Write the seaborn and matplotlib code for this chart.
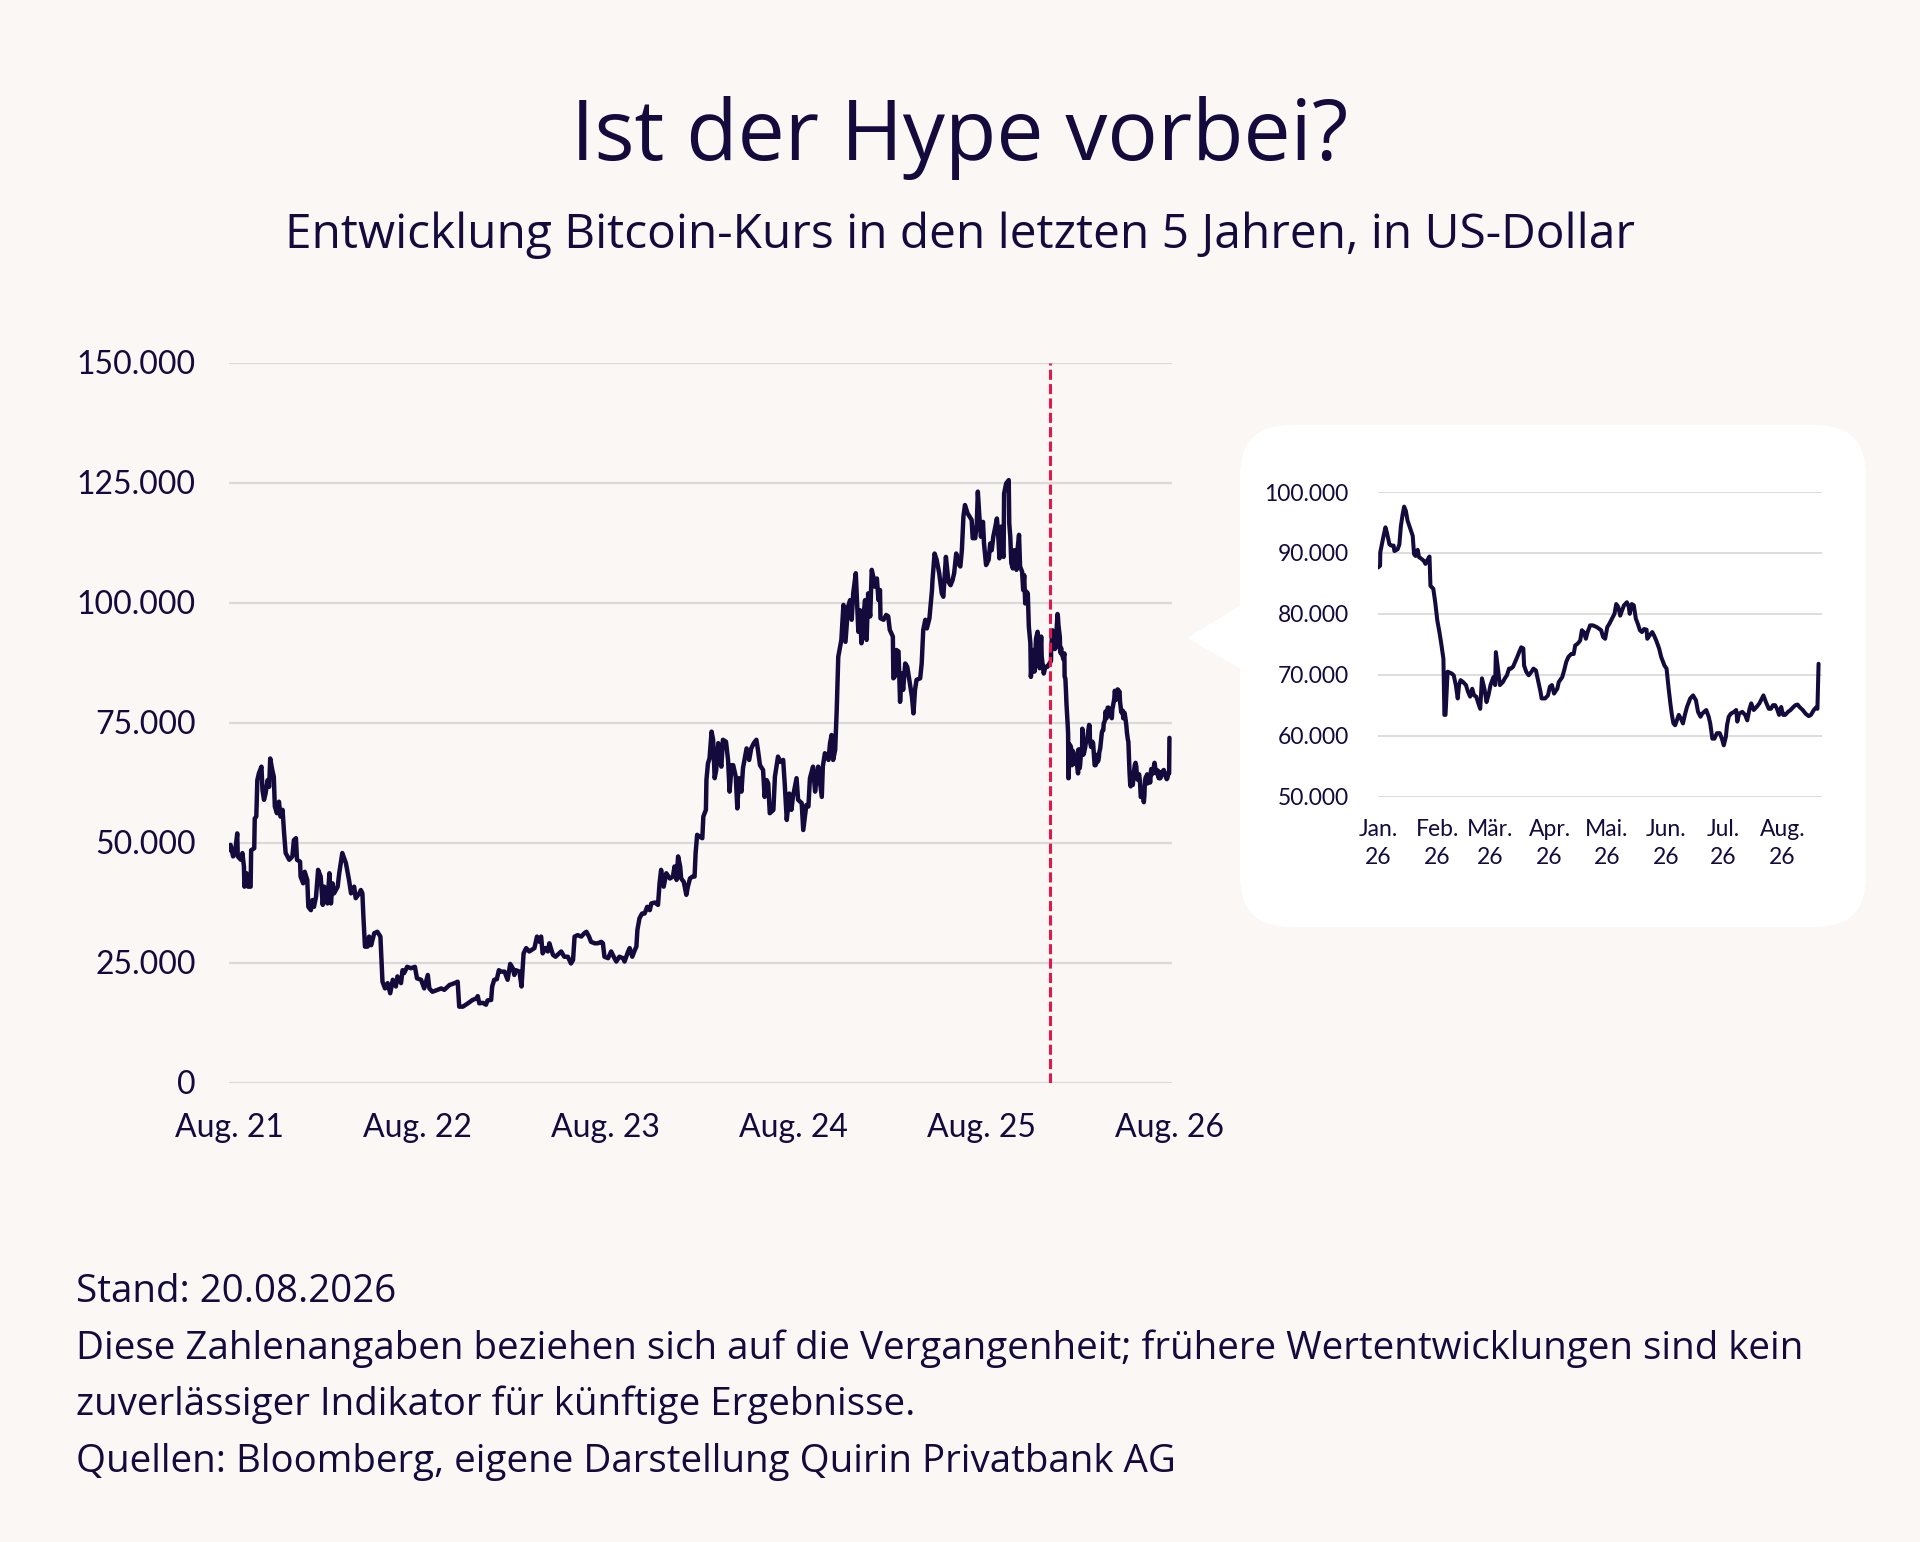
import numpy as np
import pandas as pd
import matplotlib
matplotlib.use("Agg")
import matplotlib.pyplot as plt
import matplotlib.ticker as mticker
from matplotlib.patches import FancyBboxPatch, Polygon
import seaborn as sns

# --- data ----------------------------------------------------------------
# main series: days after 20.08.2021, price in thousand USD (until end of 2025)
main_start = "2021-08-20"
main_days = [
    0, 3, 8, 13, 16, 17, 23, 26, 29, 30, 34, 37, 42, 43, 49, 50, 53, 55, 58, 63,
    65, 68, 71, 75, 78, 80, 84, 87, 89, 93, 97, 100, 104, 107, 110, 117, 123, 126, 130, 132,
    138, 139, 144, 147, 152, 154, 159, 162, 165, 169, 173, 178, 182, 185, 191, 195, 198, 201, 204, 211,
    214, 220, 227, 233, 237, 243, 246, 253, 256, 259, 261, 264, 269, 272, 276, 282, 288, 294, 296, 298,
    303, 308, 313, 318, 324, 327, 334, 337, 340, 346, 353, 361, 365, 373, 379, 386, 389, 395, 405, 412,
    418, 428, 438, 444, 447, 454, 464, 473,
    480, 483, 486, 493, 499, 502, 509, 511, 515, 520, 524, 528, 535, 541, 546, 551, 554, 557, 564, 568,
    572, 577, 583, 593, 598, 603, 606, 609, 614, 619, 622, 629, 634, 638, 645, 651, 658, 664, 668, 671,
    677, 684, 690, 694, 699, 703, 710, 716, 723, 726, 729, 736, 742, 747, 752, 758, 765, 768, 775, 778,
    783, 788, 791, 793, 797, 802, 807, 812, 817, 820, 827, 833, 836, 839, 844, 849, 856, 862, 865, 869,
    872, 876, 878, 883, 888, 891, 895, 900, 904, 906, 909, 914, 919,
    921, 926, 927, 930, 933, 937, 940, 943, 946, 950, 953, 956, 959, 965, 969, 972, 976, 979, 984, 987,
    990, 995, 998, 1005, 1010, 1014, 1019, 1024, 1027, 1031, 1037, 1040, 1044, 1047, 1050, 1057, 1060, 1066, 1070, 1076,
    1079, 1083, 1088, 1092, 1095, 1102, 1105, 1112, 1115, 1121, 1125, 1128, 1134, 1138, 1141, 1144, 1151, 1153, 1157, 1164,
    1167, 1170, 1173, 1177, 1180, 1183, 1189, 1193, 1197, 1202, 1206, 1209, 1212, 1217, 1222, 1225, 1228, 1232, 1235, 1238,
    1241, 1245, 1248, 1251, 1254, 1258, 1261, 1264, 1265, 1271, 1276, 1280, 1283, 1289, 1290, 1293, 1296, 1300, 1303, 1306,
    1309, 1313, 1317, 1322, 1326, 1329, 1332, 1335, 1342, 1345, 1348, 1352, 1355, 1360, 1365, 1366, 1370, 1374, 1379, 1384,
    1387, 1392,
    1397, 1401, 1405, 1408, 1412, 1416, 1420, 1423, 1426, 1429, 1434, 1438, 1442, 1444, 1449, 1452, 1454, 1457, 1460, 1464,
    1466, 1470, 1475, 1478, 1481, 1484, 1488, 1491, 1493, 1496, 1499, 1501, 1504, 1505, 1509, 1514, 1515, 1517, 1519, 1522,
    1525, 1529, 1531, 1534, 1536, 1540, 1542, 1544, 1546, 1548, 1551, 1553, 1556, 1557, 1561, 1564, 1567, 1570, 1572, 1574,
    1577, 1578, 1582, 1585, 1589, 1593,
]
main_price_k = [
    48.4, 49.5, 47.1, 49.1, 51.9, 47.1, 46.4, 47.8, 45.0, 40.8, 43.6, 40.8, 40.8, 48.4, 48.8, 55.0, 55.4, 63.0, 64.4, 65.8,
    60.9, 58.9, 60.2, 63.0, 61.6, 67.5, 65.1, 63.7, 57.5, 56.1, 58.5, 55.4, 56.8, 51.9, 47.8, 46.4, 47.1, 50.5, 50.9, 46.4,
    46.0, 42.9, 41.5, 43.9, 42.2, 36.6, 35.9, 38.0, 36.6, 38.7, 44.3, 42.9, 37.0, 40.8, 37.3, 43.6, 37.3, 41.5, 39.4, 40.8,
    43.6, 47.8, 45.7, 42.2, 39.4, 40.8, 38.4, 39.4, 40.1, 39.4, 34.5, 28.3, 28.3, 30.4, 28.6, 31.1, 31.4, 30.4, 25.5, 21.0,
    19.6, 20.7, 18.6, 21.4, 20.0, 22.1, 20.7, 23.4, 22.8, 24.1, 23.8, 24.1, 21.7, 21.4, 19.6, 22.4, 19.6, 18.9, 19.3, 19.6,
    19.3, 20.3, 20.7, 21.0, 15.8, 15.8, 16.5, 17.2,
    17.5, 18.0, 16.5, 16.6, 16.2, 17.1, 17.2, 20.0, 21.4, 21.5, 23.4, 23.1, 23.1, 21.4, 24.7, 23.8, 22.4, 23.4, 23.1, 20.0,
    26.9, 28.0, 27.3, 28.0, 30.4, 29.3, 30.4, 26.9, 28.0, 27.3, 29.0, 26.6, 26.2, 26.6, 27.3, 26.2, 26.2, 24.8, 25.5, 30.4,
    30.7, 30.4, 31.1, 31.4, 30.4, 29.3, 29.0, 29.0, 29.3, 29.0, 26.2, 25.9, 27.3, 26.2, 25.2, 26.2, 25.9, 25.2, 27.3, 28.0,
    26.2, 27.6, 28.3, 31.8, 34.2, 35.2, 35.2, 36.6, 35.9, 37.3, 37.5, 37.0, 41.5, 44.3, 40.8, 43.6, 42.5, 42.9, 45.0, 42.2,
    47.1, 45.0, 42.5, 41.8, 39.1, 40.8, 42.5, 42.9, 42.9, 47.8, 51.6, 51.2, 50.9,
    55.4, 56.8, 63.0, 66.5, 67.5, 73.1, 71.4, 63.4, 65.1, 70.7, 67.2, 65.8, 71.4, 71.0, 67.2, 60.6, 66.1, 66.1, 63.7, 57.1,
    63.4, 60.6, 65.5, 69.6, 67.2, 69.6, 70.7, 71.4, 69.3, 66.1, 65.1, 59.5, 63.0, 62.3, 56.1, 56.8, 63.7, 67.9, 66.8, 67.2,
    62.3, 54.7, 60.2, 56.8, 59.5, 63.4, 58.9, 58.2, 52.6, 57.8, 57.5, 63.4, 65.8, 60.6, 63.4, 65.8, 59.5, 65.8, 68.6, 67.2,
    70.7, 72.4, 67.2, 69.3, 77.6, 88.7, 92.2, 99.5, 91.8, 99.1, 100.5, 96.4, 101.9, 106.1, 93.9, 98.4, 91.5, 97.1, 100.5, 92.2,
    101.9, 97.1, 106.8, 105.4, 103.3, 105.0, 100.5, 102.6, 96.7, 96.4, 97.4, 97.1, 94.3, 92.9, 84.2, 84.6, 90.1, 89.8, 79.3, 85.2,
    81.8, 87.3, 86.6, 83.2, 80.4, 76.9, 81.8, 83.9, 84.2, 87.3, 94.3, 96.4, 94.6, 96.7, 102.6, 104.7, 110.2, 108.9, 106.1, 101.9,
    101.2, 109.5,
    104.3, 103.6, 104.7, 106.1, 110.2, 108.2, 107.5, 110.9, 117.9, 120.3, 118.6, 117.9, 117.2, 113.4, 113.4, 116.5, 123.1, 117.9, 113.7, 116.8,
    112.3, 107.8, 108.9, 112.3, 110.9, 113.7, 115.8, 117.5, 115.1, 109.2, 115.8, 110.9, 109.5, 122.7, 124.8, 125.5, 116.5, 113.7, 108.2, 107.1,
    110.9, 106.8, 110.9, 114.1, 107.5, 106.4, 102.6, 105.7, 99.8, 102.3, 101.9, 95.0, 91.5, 84.5, 90.1, 85.6, 92.5, 93.9, 91.5, 86.3,
    92.9, 88.7, 85.2, 86.6, 86.6, 87.3,
]

# 2026 detail (inset): days after 01.01.2026, price in thousand USD
inset_start = "2026-01-01"
inset_days = [
    0.0, 1.1, 1.2, 2.6, 3.9, 4.7, 5.4, 6.0, 6.9, 8.2, 8.6, 10.3, 11.2, 12.0, 12.9, 13.7, 14.6, 15.5, 16.7, 18.2,
    18.9, 19.7, 20.8, 21.5, 22.5, 24.0, 24.9, 26.2, 27.0, 27.5, 29.0, 30.0, 31.1, 32.2, 33.3, 34.3, 34.8, 35.4, 36.5, 38.6,
    39.7, 40.8, 41.8, 42.5, 43.3, 44.6, 46.1, 47.2, 48.3, 49.4, 50.4, 51.5, 52.6, 53.6, 54.5, 55.8, 56.9, 57.9, 59.0, 60.5,
    61.4, 61.8, 62.9, 63.9, 65.5, 66.5, 67.6, 68.7, 69.7, 70.8, 71.9, 73.0, 74.0, 75.1, 76.2, 76.6, 77.7, 79.0, 80.5, 81.5,
    82.8, 83.7, 85.2, 85.8, 87.6, 89.1, 90.1, 91.2, 92.3, 94.0, 94.8, 96.6, 97.6, 98.7, 99.8, 101.3, 102.6, 103.4, 104.7, 106.0,
    106.9, 107.9, 109.0, 109.9, 111.2, 112.7, 114.8, 117.0, 118.0, 119.1, 120.2, 121.2, 122.7, 124.0, 124.9, 126.0, 127.0, 127.9, 129.0, 130.5,
    131.5, 132.0, 133.0, 134.1, 135.2, 136.3, 137.3, 138.4, 139.5, 140.8, 141.2, 142.3, 143.8, 144.8, 145.9, 147.4, 148.5, 150.2, 151.3, 152.4,
    153.4, 154.1, 154.9, 155.8, 156.7, 157.7, 158.8, 159.9, 160.9, 162.0, 163.7, 165.2, 166.7, 167.8, 169.1, 170.0, 171.0, 172.1, 173.4, 174.2,
    175.3, 176.4, 177.7, 179.2, 180.3, 181.3, 182.4, 183.0, 183.9, 185.0, 186.7, 187.8, 188.4, 189.3, 191.0, 192.5, 193.6, 194.8, 195.7, 197.0,
    198.5, 200.0, 201.3, 202.1, 203.4, 204.9, 206.0, 207.1, 208.2, 209.2, 210.3, 211.4, 212.4, 213.5, 215.0, 216.3, 217.8, 218.9, 220.0, 221.0,
    222.7, 224.2, 225.8, 227.0, 228.5, 229.6, 230.4, 231.0,
]
inset_price_k = [
    87.6, 87.9, 90.1, 92.3, 94.2, 93.3, 92.3, 91.4, 91.2, 91.2, 90.3, 90.6, 91.4, 94.4, 96.3, 97.6, 96.9, 95.3, 94.2, 92.8,
    89.8, 89.5, 90.5, 89.3, 89.1, 88.7, 88.2, 89.0, 89.4, 84.6, 84.1, 81.9, 78.9, 77.0, 74.8, 72.6, 63.4, 63.4, 70.5, 70.2,
    69.9, 68.3, 66.1, 68.3, 69.1, 68.8, 68.3, 67.2, 66.4, 67.7, 66.6, 66.4, 65.3, 64.4, 69.4, 67.7, 65.5, 66.6, 68.3, 69.6,
    68.3, 73.7, 71.0, 68.3, 68.8, 69.4, 69.9, 71.0, 71.0, 71.3, 72.1, 72.9, 73.7, 74.5, 74.3, 71.5, 70.5, 69.9, 70.5, 71.0,
    70.7, 69.4, 67.2, 66.1, 66.1, 66.6, 68.0, 68.3, 66.9, 67.7, 68.8, 69.6, 70.7, 72.1, 72.9, 73.4, 73.4, 74.8, 75.1, 75.6,
    77.3, 77.0, 75.9, 77.0, 78.1, 78.1, 77.8, 77.3, 76.2, 75.9, 77.8, 78.3, 79.2, 80.0, 81.6, 81.1, 79.7, 80.5, 81.4, 81.9,
    81.1, 80.0, 81.6, 81.4, 79.2, 78.3, 77.3, 77.0, 77.5, 77.4, 75.9, 76.4, 77.0, 76.4, 75.6, 74.3, 72.9, 71.5, 71.0, 67.7,
    65.0, 63.4, 62.0, 61.7, 62.5, 63.4, 62.8, 62.0, 63.4, 64.7, 66.1, 66.6, 65.8, 63.9, 63.1, 63.6, 63.9, 64.2, 63.1, 62.0,
    59.5, 59.5, 60.4, 60.4, 59.5, 58.4, 59.8, 61.7, 63.1, 63.6, 63.9, 64.2, 62.3, 63.6, 63.9, 63.4, 62.5, 64.4, 65.3, 64.2,
    64.7, 65.3, 66.1, 66.6, 65.5, 64.4, 64.4, 65.0, 65.0, 64.4, 63.4, 64.7, 63.4, 63.4, 63.9, 64.2, 64.7, 65.0, 65.1, 64.7,
    64.2, 63.6, 63.2, 63.4, 64.2, 64.6, 64.4, 71.8,
]

main_tick_dates = ["2021-08-20", "2022-08-20", "2023-08-20", "2024-08-20", "2025-08-20", "2026-08-20"]
main_tick_labels = ["Aug. 21", "Aug. 22", "Aug. 23", "Aug. 24", "Aug. 25", "Aug. 26"]
inset_tick_dates = ["2026-01-01", "2026-02-01", "2026-03-01", "2026-04-01",
                    "2026-05-01", "2026-06-01", "2026-07-01", "2026-08-01"]
inset_tick_labels = ["Jan.\n26", "Feb.\n26", "Mär.\n26", "Apr.\n26",
                     "Mai.\n26", "Jun.\n26", "Jul.\n26", "Aug.\n26"]

title = "Ist der Hype vorbei?"
subtitle = "Entwicklung Bitcoin-Kurs in den letzten 5 Jahren, in US-Dollar"
footnotes = [
    "Stand: 20.08.2026",
    "Diese Zahlenangaben beziehen sich auf die Vergangenheit; frühere Wertentwicklungen sind kein",
    "zuverlässiger Indikator für künftige Ergebnisse.",
    "Quellen: Bloomberg, eigene Darstellung Quirin Privatbank AG",
]

# --- styling ---------------------------------------------------------------
BG = "#FAF7F4"
NAVY = "#140A3C"
GRID = "#DADADA"
RED = "#E4174D"

sns.set_theme(style="white")
plt.rcParams["font.family"] = ["Lato", "DejaVu Sans"]
TEXT_FONT = ["Open Sans", "DejaVu Sans"]


def de_thousands(v, pos):
    return f"{v:,.0f}".replace(",", ".")


inset_dates = pd.Timestamp(inset_start) + pd.to_timedelta(inset_days, unit="D")
inset_df = pd.DataFrame({"date": inset_dates, "price": np.array(inset_price_k) * 1000})

main_dates = pd.Timestamp(main_start) + pd.to_timedelta(main_days, unit="D")
main_df = pd.DataFrame({"date": main_dates, "price": np.array(main_price_k) * 1000})
main_df = pd.concat([main_df, inset_df], ignore_index=True)

fig = plt.figure(figsize=(19.2, 15.42), dpi=100, facecolor=BG)

# background layer in pixel units for the speech-bubble box
bg = fig.add_axes([0, 0, 1, 1])
bg.set_xlim(0, 1920)
bg.set_ylim(1542, 0)
bg.axis("off")
bg.add_patch(FancyBboxPatch((1240, 425), 626, 502,
                            boxstyle="round,pad=0,rounding_size=50",
                            fc="white", ec="none"))
bg.add_patch(Polygon([(1187, 638), (1246, 602), (1246, 672)], closed=True,
                     fc="white", ec="none"))

# titles
fig.text(0.5, 1 - 160 / 1542, title, ha="center", va="baseline",
         fontsize=60.5, color=NAVY, family=TEXT_FONT)
fig.text(0.5, 1 - 248 / 1542, subtitle, ha="center", va="baseline",
         fontsize=34.5, color=NAVY, family=TEXT_FONT)

# main chart
ax = fig.add_axes([229 / 1920, 1 - 1082.5 / 1542, 943 / 1920, 720 / 1542])
ax.set_facecolor("none")
sns.lineplot(data=main_df, x="date", y="price", ax=ax, color=NAVY,
             linewidth=3.2, estimator=None, errorbar=None)
ax.axvline(pd.Timestamp(inset_start), color=RED, linewidth=2.2,
           linestyle=(0, (3.3, 1.4)), zorder=5)
ax.set_ylim(0, 150000)
ax.set_yticks(np.arange(0, 150001, 25000))
ax.yaxis.set_major_formatter(mticker.FuncFormatter(de_thousands))
ax.set_xlim(pd.Timestamp("2021-08-20"), pd.Timestamp("2026-08-25"))
ax.set_xticks(pd.to_datetime(main_tick_dates))
ax.set_xticklabels(main_tick_labels)
ax.set_axisbelow(True)
ax.grid(axis="y", color=GRID, linewidth=1.6)
ax.grid(axis="x", visible=False)
for s in ax.spines.values():
    s.set_visible(False)
ax.tick_params(axis="both", length=0, labelsize=23, labelcolor=NAVY)
ax.tick_params(axis="y", pad=24)
ax.tick_params(axis="x", pad=22)
ax.set_xlabel("")
ax.set_ylabel("")

# inset chart (2026)
ix = fig.add_axes([1378 / 1920, 1 - 796.5 / 1542, 444 / 1920, 304.5 / 1542])
ix.set_facecolor("none")
sns.lineplot(data=inset_df, x="date", y="price", ax=ix, color=NAVY,
             linewidth=2.9, estimator=None, errorbar=None)
ix.set_ylim(50000, 100000)
ix.set_yticks(np.arange(50000, 100001, 10000))
ix.yaxis.set_major_formatter(mticker.FuncFormatter(de_thousands))
ix.set_xlim(pd.Timestamp(inset_start), pd.Timestamp(inset_start) + pd.Timedelta(days=232.8))
ix.set_xticks(pd.to_datetime(inset_tick_dates))
ix.set_xticklabels(inset_tick_labels, linespacing=1.4)
ix.set_axisbelow(True)
ix.grid(axis="y", color=GRID, linewidth=1.3)
ix.grid(axis="x", visible=False)
for s in ix.spines.values():
    s.set_visible(False)
ix.tick_params(axis="both", length=0, labelsize=16.5, labelcolor=NAVY)
ix.tick_params(axis="y", pad=21)
ix.tick_params(axis="x", pad=16)
ix.set_xlabel("")
ix.set_ylabel("")

# footnotes
for i, line in enumerate(footnotes):
    fig.text(76 / 1920, 1 - (1302 + i * 56.7) / 1542, line, ha="left",
             va="baseline", fontsize=27.7, color=NAVY, family=TEXT_FONT)

fig.savefig("out.png", dpi=100, facecolor=BG)
